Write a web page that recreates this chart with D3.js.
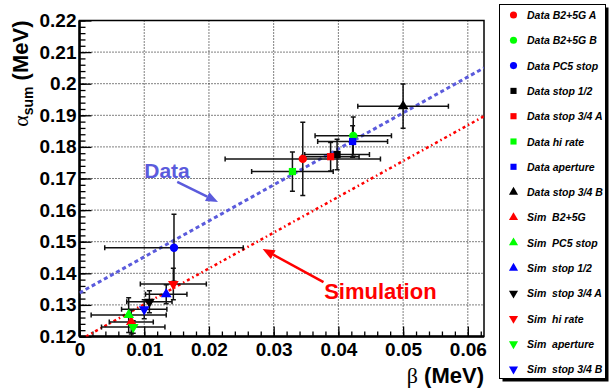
<!DOCTYPE html>
<html>
<head>
<meta charset="utf-8">
<script src="https://cdn.jsdelivr.net/npm/d3@7"></script>
<style>
  body { margin: 0; background: #fff; }
  text { font-family: "Liberation Sans", Arial, sans-serif; }
</style>
</head>
<body>
<div id="my_dataviz"></div>
<script>

// DATA
var seriesNames = ["Data B2+5G A", "Data B2+5G B", "Data PC5 stop", "Data stop 1/2",
  "Data stop 3/4 A", "Data hi rate", "Data aperture", "Data stop 3/4 B",
  "Sim  B2+5G", "Sim  PC5 stop", "Sim  stop 1/2", "Sim  stop 3/4 A",
  "Sim  hi rate", "Sim  aperture", "Sim  stop 3/4 B"];
var betaVals  = [0.0345, 0.0423, 0.0146, 0.0398, 0.0388, 0.0329, 0.0422, 0.0500,
                 0.0080, 0.0076, 0.0134, 0.0108, 0.0145, 0.0083, 0.0100];
var alphaVals = [0.1762, 0.1835, 0.1481, 0.1776, 0.1769, 0.1722, 0.1817, 0.1929,
                 0.1246, 0.1268, 0.1334, 0.1310, 0.1366, 0.1230, 0.1286];
var betaErr   = [0.0120, 0.0059, 0.0107, 0.0050, 0.0044, 0.0063, 0.0054, 0.0070,
                 0.0034, 0.0058, 0.0032, 0.0035, 0.0051, 0.0049, 0.0035];
var alphaErr  = [0.0116, 0.0060, 0.0106, 0.0048, 0.0045, 0.0062, 0.0050, 0.0070,
                 0.0038, 0.0055, 0.0030, 0.0035, 0.0050, 0.0020, 0.0030];

var xTickVals = [0, 0.01, 0.02, 0.03, 0.04, 0.05, 0.06];
var yTickVals = [0.12, 0.13, 0.14, 0.15, 0.16, 0.17, 0.18, 0.19, 0.2, 0.21, 0.22];

// fitted lines, two end points each
var dataFitLine = [[0, 0.1338], [0.0625, 0.2050]];
var simFitLine  = [[0.001, 0.12], [0.0625, 0.1897]];

// text labels with arrows (data coordinates)
var dataLabel = {text: "Data", at: [0.0100, 0.1701], from: [0.0151, 0.1689], to: [0.0214, 0.1626]};
var simLabel  = {text: "Simulation", at: [0.0378, 0.1319], from: [0.0377, 0.1372], to: [0.0283, 0.1477]};

// marker style per series
var markerColors = ["#ff0000", "#00ff00", "#0000ff", "#000000", "#ff0000", "#00ff00", "#0000ff", "#000000",
                    "#ff0000", "#00ff00", "#0000ff", "#000000", "#ff0000", "#00ff00", "#0000ff"];
var markerShapes = ["circle", "circle", "circle", "square", "square", "square", "square", "up",
                    "up", "up", "up", "down", "down", "down", "down"];

var dataBlue = "#5b5bdc";

var W = 610, H = 389;
var plot = {left: 79.5, right: 484, top: 20.5, bottom: 336.5};

var svg = d3.select("#my_dataviz")
  .append("svg")
    .attr("width", W)
    .attr("height", H);

var x = d3.scaleLinear().domain([0, 0.0625]).range([plot.left, plot.right]);
var y = d3.scaleLinear().domain([0.12, 0.22]).range([plot.bottom, plot.top]);

svg.append("clipPath").attr("id", "clip")
  .append("rect")
    .attr("x", plot.left).attr("y", plot.top)
    .attr("width", plot.right - plot.left).attr("height", plot.bottom - plot.top);

/************** GRID **************/
svg.selectAll(".vgrid")
  .data(xTickVals.filter(function(d){ return d > 0; }))
  .enter().append("line")
    .attr("x1", function(d){ return x(d); }).attr("x2", function(d){ return x(d); })
    .attr("y1", plot.top).attr("y2", plot.bottom)
    .attr("stroke", "#000").attr("stroke-width", 1).attr("stroke-dasharray", "1,2");

svg.selectAll(".hgrid")
  .data(yTickVals.filter(function(d){ return d > 0.12 && d < 0.22; }))
  .enter().append("line")
    .attr("y1", function(d){ return y(d); }).attr("y2", function(d){ return y(d); })
    .attr("x1", plot.left).attr("x2", plot.right)
    .attr("stroke", "#000").attr("stroke-width", 1).attr("stroke-dasharray", "1,2");

/************** AXES **************/
var minorX = d3.range(0, 0.0621, 0.002);
var minorY = d3.range(0.12, 0.2201, 0.002);

svg.append("g")
  .attr("transform", "translate(0," + plot.bottom + ")")
  .call(d3.axisBottom(x).tickValues(minorX).tickSize(-5).tickFormat(""))
  .call(function(g){ g.select(".domain").remove(); })
  .selectAll("line").attr("stroke-width", 1.3);

var xAxis = svg.append("g")
  .attr("transform", "translate(0," + plot.bottom + ")")
  .call(d3.axisBottom(x).tickValues(xTickVals).tickSize(-10).tickPadding(6)
        .tickFormat(function(d){ return d === 0 ? "0" : d3.format(".2f")(d).replace(/0$/, ""); }));
xAxis.select(".domain").remove();
xAxis.selectAll("line").attr("stroke-width", 1.3);
xAxis.selectAll("text").attr("font-size", 19).attr("font-weight", "bold")
  .attr("font-family", "'Liberation Sans', Arial, sans-serif");

svg.append("g")
  .attr("transform", "translate(" + plot.left + ",0)")
  .call(d3.axisLeft(y).tickValues(minorY).tickSize(-6).tickFormat(""))
  .call(function(g){ g.select(".domain").remove(); })
  .selectAll("line").attr("stroke-width", 1.3);

var yAxis = svg.append("g")
  .attr("transform", "translate(" + plot.left + ",0)")
  .call(d3.axisLeft(y).tickValues(yTickVals).tickSize(-12).tickPadding(3)
        .tickFormat(function(d){ return String(+d.toFixed(2)); }));
yAxis.select(".domain").remove();
yAxis.selectAll("line").attr("stroke-width", 1.3);
yAxis.selectAll("text").attr("font-size", 19).attr("font-weight", "bold")
  .attr("font-family", "'Liberation Sans', Arial, sans-serif");

// frame
svg.append("rect")
  .attr("x", plot.left).attr("y", plot.top)
  .attr("width", plot.right - plot.left).attr("height", plot.bottom - plot.top)
  .attr("fill", "none").attr("stroke", "#000").attr("stroke-width", 1.5);
svg.append("line")
  .attr("x1", plot.left).attr("x2", plot.right).attr("y1", plot.bottom).attr("y2", plot.bottom)
  .attr("stroke", "#000").attr("stroke-width", 2.5);
svg.append("line")
  .attr("x1", plot.left).attr("x2", plot.left).attr("y1", plot.top).attr("y2", plot.bottom)
  .attr("stroke", "#000").attr("stroke-width", 2.5);

// axis titles
var xt = svg.append("text")
  .attr("x", plot.right).attr("y", 383)
  .attr("text-anchor", "end").attr("font-size", 22);
xt.append("tspan").attr("font-family", "'Liberation Serif', serif").text("\u03b2");
xt.append("tspan").attr("font-weight", "bold").text(" (MeV)");

var yt = svg.append("text")
  .attr("transform", "translate(28," + plot.top + ") rotate(-90)")
  .attr("text-anchor", "end").attr("font-size", 22);
yt.append("tspan").attr("font-family", "'Liberation Serif', serif").text("\u03b1");
yt.append("tspan").attr("font-weight", "bold").attr("font-size", 14).attr("dy", 5).text("sum");
yt.append("tspan").attr("font-weight", "bold").attr("dy", -5).text(" (MeV)");

/************** FIT LINES **************/
var line = d3.line()
  .x(function(d){ return x(d[0]); })
  .y(function(d){ return y(d[1]); });

var lines = svg.append("g").attr("clip-path", "url(#clip)");
lines.append("path").datum(dataFitLine)
  .attr("d", line).attr("fill", "none")
  .attr("stroke", dataBlue).attr("stroke-width", 3).attr("stroke-dasharray", "4,3");
lines.append("path").datum(simFitLine)
  .attr("d", line).attr("fill", "none")
  .attr("stroke", "#ff0000").attr("stroke-width", 2.5).attr("stroke-dasharray", "3,3,1.5,3");

/************** ERROR BARS + MARKERS **************/
var points = seriesNames.map(function(n, i){
  return {name: n, bx: betaVals[i], ay: alphaVals[i], ex: betaErr[i], ey: alphaErr[i],
          color: markerColors[i], shape: markerShapes[i]};
});

var cap = 2.5;
var eb = svg.append("g").attr("clip-path", "url(#clip)")
  .selectAll("g").data(points).enter().append("g")
  .attr("stroke", "#111").attr("stroke-width", 1.5);
eb.append("line")
  .attr("x1", function(d){ return x(d.bx - d.ex); }).attr("x2", function(d){ return x(d.bx + d.ex); })
  .attr("y1", function(d){ return y(d.ay); }).attr("y2", function(d){ return y(d.ay); });
eb.append("line")
  .attr("x1", function(d){ return x(d.bx); }).attr("x2", function(d){ return x(d.bx); })
  .attr("y1", function(d){ return y(d.ay - d.ey); }).attr("y2", function(d){ return y(d.ay + d.ey); });
[-1, 1].forEach(function(s){
  eb.append("line")
    .attr("x1", function(d){ return x(d.bx + s * d.ex); }).attr("x2", function(d){ return x(d.bx + s * d.ex); })
    .attr("y1", function(d){ return y(d.ay) - cap; }).attr("y2", function(d){ return y(d.ay) + cap; });
  eb.append("line")
    .attr("y1", function(d){ return y(d.ay + s * d.ey); }).attr("y2", function(d){ return y(d.ay + s * d.ey); })
    .attr("x1", function(d){ return x(d.bx) - cap; }).attr("x2", function(d){ return x(d.bx) + cap; });
});

function markerPath(shape) {
  if (shape === "circle") return d3.symbol().type(d3.symbolCircle).size(55)();
  if (shape === "square") return d3.symbol().type(d3.symbolSquare).size(52)();
  return d3.symbol().type(d3.symbolTriangle).size(50)();
}
function markerTransform(shape, px, py) {
  return "translate(" + px + "," + py + ")" + (shape === "down" ? " rotate(180)" : "");
}

svg.append("g").selectAll("path").data(points).enter().append("path")
  .attr("d", function(d){ return markerPath(d.shape); })
  .attr("transform", function(d){ return markerTransform(d.shape, x(d.bx), y(d.ay)); })
  .attr("fill", function(d){ return d.color; });

/************** ANNOTATIONS **************/
function arrow(lab, color) {
  var x1 = x(lab.from[0]), y1 = y(lab.from[1]), x2 = x(lab.to[0]), y2 = y(lab.to[1]);
  var ang = Math.atan2(y2 - y1, x2 - x1);
  var len = 12, half = 5;
  var bx = x2 - len * Math.cos(ang), by = y2 - len * Math.sin(ang);
  svg.append("line")
    .attr("x1", x1).attr("y1", y1).attr("x2", bx).attr("y2", by)
    .attr("stroke", color).attr("stroke-width", 2.5);
  svg.append("path")
    .attr("d", "M" + x2 + "," + y2 +
               "L" + (bx + half * Math.sin(ang)) + "," + (by - half * Math.cos(ang)) +
               "L" + (bx - half * Math.sin(ang)) + "," + (by + half * Math.cos(ang)) + "Z")
    .attr("fill", color);
  svg.append("text")
    .attr("x", x(lab.at[0])).attr("y", y(lab.at[1]))
    .attr("font-size", lab.text === "Data" ? 21 : 22).attr("font-weight", "bold")
    .attr("fill", color).text(lab.text);
}
arrow(dataLabel, dataBlue);
arrow(simLabel, "#ff0000");

/************** LEGEND **************/
var leg = {x: 499.5, y: 4.5, w: 106, h: 374, row0: 15, step: 25.3};
svg.append("rect")
  .attr("x", leg.x + 3).attr("y", leg.y + 3).attr("width", leg.w).attr("height", leg.h)
  .attr("fill", "#000");
svg.append("rect")
  .attr("x", leg.x).attr("y", leg.y).attr("width", leg.w).attr("height", leg.h)
  .attr("fill", "#fff").attr("stroke", "#000").attr("stroke-width", 1);

var rows = svg.append("g").selectAll("g").data(points).enter().append("g")
  .attr("transform", function(d, i){ return "translate(0," + (leg.row0 + i * leg.step) + ")"; });
rows.append("path")
  .attr("d", function(d){ return markerPath(d.shape); })
  .attr("transform", function(d){ return markerTransform(d.shape, 513.5, 0) + " scale(0.85)"; })
  .attr("fill", function(d){ return d.color; });
rows.append("text")
  .attr("x", 527).attr("y", 4)
  .attr("font-size", 10.5).attr("font-weight", "bold").attr("font-style", "italic")
  .style("white-space", "pre")
  .text(function(d){ return d.name; });

</script>
</body>
</html>
